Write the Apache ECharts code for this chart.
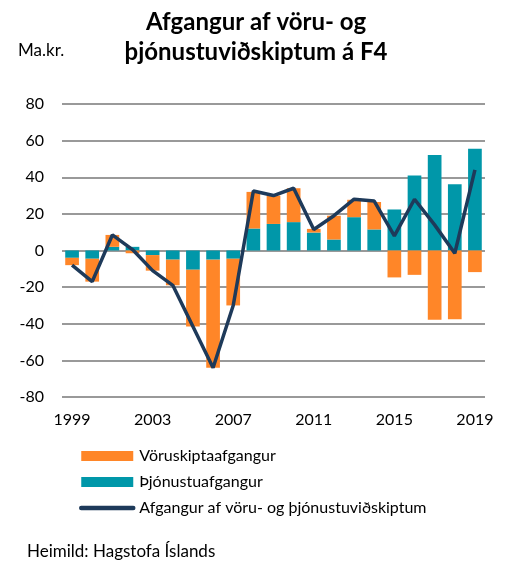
<!DOCTYPE html>
<html lang="is" style="height: 100%">

<head>
    <meta charset="utf-8">
    <script type="text/javascript" src="https://cdn.jsdelivr.net/npm/echarts@6/dist/echarts.min.js"></script>
</head>

<body style="height: 100%; margin: 0; background: #fff">
    <div id="container" style="width: 509px; height: 561px"></div>
    <script type="text/javascript">
        // Ma.kr., ársfjórðungur 4
        var years = ['1999', '2000', '2001', '2002', '2003', '2004', '2005', '2006', '2007', '2008', '2009',
            '2010', '2011', '2012', '2013', '2014', '2015', '2016', '2017', '2018', '2019'];
        var voruskipti = [-4, -12.5, 6.5, -1.5, -8.5, -14, -31, -59, -25.5, 20, 15.5,
            18.5, 2, 13, 9.5, 15, -14.7, -13.3, -37.8, -37.5, -11.8];
        var thjonusta = [-4, -4.5, 2, 2, -2.5, -5, -10.5, -5, -4.5, 12, 14.5,
            15.5, 9.8, 6, 18.2, 11.5, 22.4, 41, 52.2, 36.2, 55.6];
        var afgangur = [-8, -17, 8.5, 0.5, -11, -19, -41.5, -64, -30, 32.5, 30,
            34, 11.5, 19, 28, 27, 8, 28, 14, -1.5, 44];

        var font = 'Lato, "Liberation Sans", sans-serif';
        var chart = echarts.init(document.getElementById('container'), null, { renderer: 'canvas' });

        var option = {
            animation: false,
            textStyle: { fontFamily: font, color: '#000' },
            title: [
                {
                    text: 'Afgangur af vöru- og\nþjónustuviðskiptum á F4',
                    left: 256, top: 7, textAlign: 'center', padding: 0,
                    textStyle: { fontFamily: font, fontSize: 24, fontWeight: 'bold', color: '#000', lineHeight: 30 }
                },
                {
                    text: 'Ma.kr.',
                    left: 18, top: 42, padding: 0,
                    textStyle: { fontFamily: font, fontSize: 17, fontWeight: 'normal', color: '#000' }
                },
                {
                    text: 'Heimild: Hagstofa Íslands',
                    left: 27, top: 543, padding: 0,
                    textStyle: { fontFamily: font, fontSize: 17, fontWeight: 'normal', color: '#000' }
                }
            ],
            legend: {
                orient: 'vertical',
                left: 79, top: 448, padding: 0,
                itemWidth: 52, itemHeight: 10, itemGap: 10,
                textStyle: { fontFamily: font, fontSize: 16, color: '#000', padding: [0, 0, 0, 1] },
                data: [
                    { name: 'Vöruskiptaafgangur', icon: 'rect' },
                    { name: 'Þjónustuafgangur', icon: 'rect' },
                    {
                        name: 'Afgangur af vöru- og þjónustuviðskiptum',
                        itemStyle: { opacity: 0 },
                        lineStyle: { width: 4.5, cap: 'round' }
                    }
                ]
            },
            grid: { left: 62, right: 24, top: 104, bottom: 164 },
            xAxis: {
                type: 'category',
                data: years,
                axisLine: { show: false },
                axisTick: { show: false },
                axisLabel: { interval: 3, margin: 15, fontSize: 16, color: '#000', fontFamily: font }
            },
            yAxis: {
                type: 'value',
                min: -80, max: 80, interval: 20,
                axisLine: { show: false },
                axisTick: { show: false },
                axisLabel: { margin: 18, fontSize: 16, color: '#000', fontFamily: font },
                splitLine: { lineStyle: { color: '#999', width: 2 } }
            },
            series: [
                {
                    name: 'Þjónustuafgangur',
                    type: 'bar',
                    stack: 'afg',
                    barCategoryGap: '32%',
                    itemStyle: { color: '#0097A9' },
                    data: thjonusta
                },
                {
                    name: 'Vöruskiptaafgangur',
                    type: 'bar',
                    stack: 'afg',
                    barCategoryGap: '32%',
                    itemStyle: { color: '#FF8628' },
                    data: voruskipti
                },
                {
                    name: 'Afgangur af vöru- og þjónustuviðskiptum',
                    type: 'line',
                    symbol: 'none',
                    z: 5,
                    lineStyle: { color: '#1E3A5A', width: 3.5 },
                    itemStyle: { color: '#1E3A5A' },
                    data: afgangur
                }
            ]
        };
        chart.setOption(option);
    </script>
</body>

</html>
